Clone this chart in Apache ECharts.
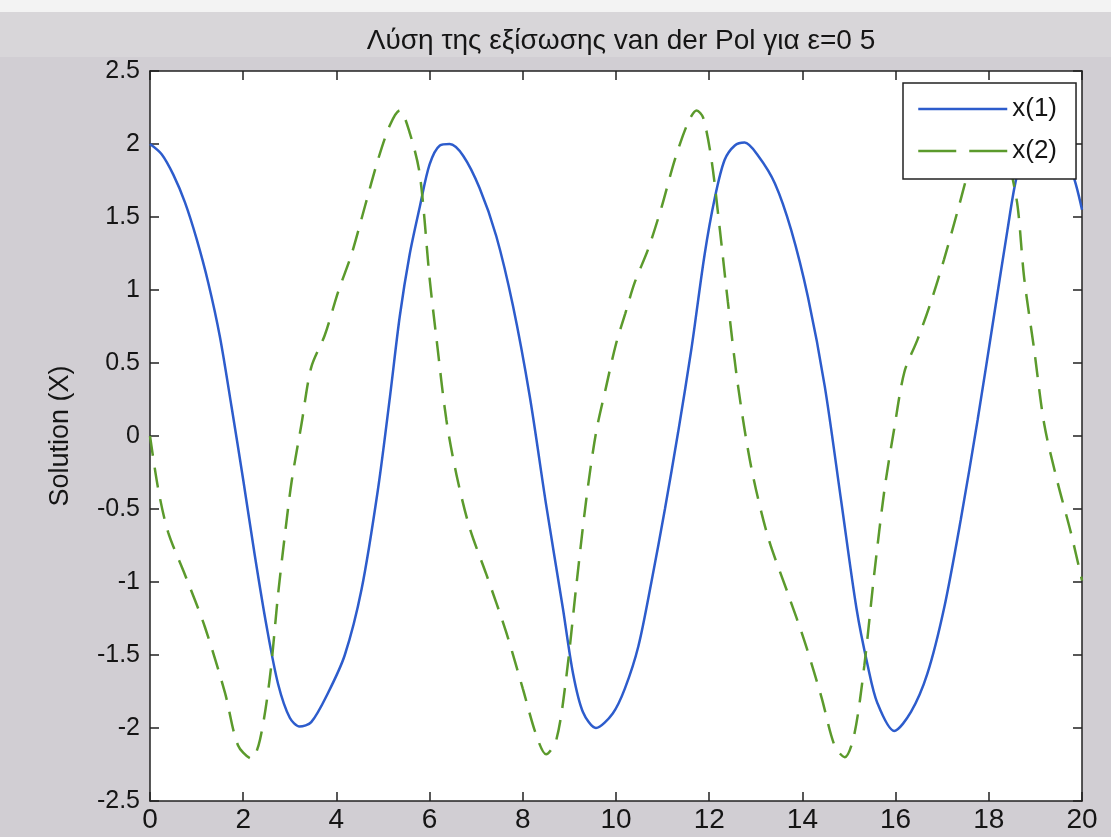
<!DOCTYPE html>
<html>
<head>
<meta charset="utf-8">
<script src="https://cdn.jsdelivr.net/npm/echarts@6/dist/echarts.min.js"></script>
<style>
  html, body { margin: 0; padding: 0; background: #d1ced3; }
  #chart { width: 1111px; height: 837px; }
</style>
</head>
<body>
<div id="chart"></div>
<script>
// x(1) values
var t1 = [0, 0.25, 0.5, 0.75, 1.0, 1.25, 1.5, 1.75, 2.0, 2.25, 2.5, 2.75, 3.0, 3.21, 3.46, 3.82, 4.18, 4.54, 4.89, 5.15, 5.36, 5.57, 5.79, 6.0, 6.22, 6.43, 6.72, 7.07, 7.43, 7.79, 8.15, 8.5, 8.86, 9.08, 9.29, 9.57, 9.93, 10.19, 10.48, 10.76, 11.05, 11.33, 11.62, 11.9, 12.12, 12.33, 12.55, 12.76, 13.05, 13.41, 13.76, 14.12, 14.48, 14.83, 15.16, 15.4, 15.61, 15.97, 16.33, 16.68, 17.04, 17.4, 17.76, 18.11, 18.4, 18.61, 18.85, 19.05, 19.3, 19.55, 19.76, 20.0];
var x1 = [2.0, 1.93, 1.79, 1.60, 1.35, 1.05, 0.68, 0.20, -0.30, -0.82, -1.30, -1.70, -1.93, -1.99, -1.96, -1.76, -1.50, -1.05, -0.37, 0.27, 0.82, 1.24, 1.57, 1.86, 1.99, 2.0, 1.92, 1.70, 1.37, 0.89, 0.27, -0.47, -1.18, -1.63, -1.89, -2.0, -1.90, -1.73, -1.44, -1.0, -0.50, 0.02, 0.60, 1.24, 1.63, 1.89, 1.99, 2.01, 1.92, 1.73, 1.41, 0.95, 0.34, -0.44, -1.18, -1.57, -1.83, -2.02, -1.89, -1.63, -1.18, -0.57, 0.11, 0.82, 1.41, 1.79, 1.97, 2.01, 1.96, 1.90, 1.83, 1.55];

// x(2) values
var t2 = [0, 0.18, 0.39, 0.75, 1.18, 1.61, 1.89, 2.18, 2.36, 2.57, 2.75, 2.89, 3.04, 3.25, 3.46, 3.75, 4.04, 4.32, 4.61, 4.89, 5.15, 5.36, 5.57, 5.79, 6.0, 6.15, 6.36, 6.58, 6.86, 7.22, 7.64, 8.0, 8.29, 8.5, 8.72, 8.93, 9.15, 9.36, 9.57, 9.79, 10.0, 10.2, 10.4, 10.69, 10.98, 11.26, 11.55, 11.73, 11.87, 12.05, 12.23, 12.4, 12.62, 12.9, 13.26, 13.69, 14.05, 14.41, 14.69, 14.91, 15.11, 15.33, 15.54, 15.76, 15.97, 16.19, 16.47, 16.76, 17.04, 17.33, 17.54, 17.8, 18.05, 18.3, 18.47, 18.62, 18.76, 18.97, 19.19, 19.47, 19.76, 20.0];
var x2 = [0, -0.37, -0.66, -0.95, -1.31, -1.76, -2.12, -2.21, -2.08, -1.66, -1.08, -0.69, -0.31, 0.08, 0.47, 0.69, 0.99, 1.24, 1.57, 1.89, 2.13, 2.23, 2.08, 1.79, 1.08, 0.66, 0.11, -0.27, -0.63, -0.95, -1.34, -1.73, -2.05, -2.18, -2.08, -1.66, -1.02, -0.44, 0.02, 0.34, 0.63, 0.84, 1.05, 1.28, 1.57, 1.89, 2.15, 2.23, 2.18, 1.89, 1.41, 0.92, 0.34, -0.21, -0.69, -1.08, -1.41, -1.79, -2.12, -2.20, -2.05, -1.57, -0.95, -0.37, 0.05, 0.44, 0.66, 0.92, 1.21, 1.54, 1.79, 2.08, 2.23, 2.12, 1.83, 1.57, 1.08, 0.60, 0.08, -0.31, -0.66, -0.99];

var seriesNames = ['x(1)', 'x(2)'];
var titleText = 'Λύση της εξίσωσης van der Pol για ε=0 5';
var yName = 'Solution (X)';

function pairs(ts, vs) {
    return ts.map(function (t, i) { return [t, vs[i]]; });
}

var font = 'Liberation Sans, Arial, sans-serif';
var ink = '#151515';
var myChart = echarts.init(document.getElementById('chart'));

var axisCommon = {
    type: 'value',
    axisLine: { show: true, onZero: false, lineStyle: { color: '#222', width: 1.5 } },
    axisTick: { show: true, inside: true, length: 9, lineStyle: { color: '#222', width: 1.5 } },
    splitLine: { show: false }
};

myChart.setOption({
    animation: false,
    backgroundColor: '#d1ced3',
    graphic: [
        { type: 'rect', z: -10, shape: { x: 0, y: 0, width: 1111, height: 12 }, style: { fill: '#f3f3f3' } },
        { type: 'rect', z: -10, shape: { x: 0, y: 12, width: 1111, height: 45 }, style: { fill: '#d8d6d9' } }
    ],
    title: {
        text: titleText,
        left: 616,
        textAlign: 'center',
        top: 22,
        textStyle: { fontFamily: font, fontSize: 28, fontWeight: 'normal', color: ink }
    },
    legend: {
        orient: 'vertical',
        left: 903,
        top: 83,
        padding: [13, 19, 15, 14],
        itemGap: 16,
        itemWidth: 89,
        itemHeight: 24,
        backgroundColor: '#fff',
        borderColor: '#222',
        borderWidth: 1.5,
        borderRadius: 0,
        itemStyle: { opacity: 0 },
        data: [
            { name: seriesNames[0], lineStyle: { width: 2.5 } },
            { name: seriesNames[1], lineStyle: { width: 2.5, type: [38, 13] } }
        ],
        textStyle: { fontFamily: font, fontSize: 26, color: ink, lineHeight: 24 }
    },
    grid: {
        left: 150, right: 29, top: 71, bottom: 36,
        show: true, backgroundColor: '#ffffff', borderWidth: 0
    },
    xAxis: [
        Object.assign({}, axisCommon, {
            position: 'bottom', min: 0, max: 20, interval: 2,
            axisLabel: { fontFamily: font, fontSize: 28, color: ink, margin: 5 }
        }),
        Object.assign({}, axisCommon, {
            position: 'top', min: 0, max: 20, interval: 2,
            axisLabel: { show: false }
        })
    ],
    yAxis: [
        Object.assign({}, axisCommon, {
            position: 'left', min: -2.5, max: 2.5, interval: 0.5,
            name: yName, nameLocation: 'middle', nameGap: 76,
            nameTextStyle: { fontFamily: font, fontSize: 27, color: ink },
            axisLabel: { fontFamily: font, fontSize: 25, color: ink, margin: 10 }
        }),
        Object.assign({}, axisCommon, {
            position: 'right', min: -2.5, max: 2.5, interval: 0.5,
            axisLabel: { show: false }
        })
    ],
    series: [
        {
            name: seriesNames[0],
            type: 'line',
            data: pairs(t1, x1),
            smooth: 0.3,
            symbol: 'none',
            clip: true,
            itemStyle: { color: '#2d5ccc' },
            lineStyle: { color: '#2d5ccc', width: 2.5 }
        },
        {
            name: seriesNames[1],
            type: 'line',
            data: pairs(t2, x2),
            smooth: 0.3,
            symbol: 'none',
            clip: true,
            itemStyle: { color: '#5b9a2c' },
            lineStyle: { color: '#5b9a2c', width: 2.5, type: [20, 12] }
        }
    ]
});
</script>
</body>
</html>
